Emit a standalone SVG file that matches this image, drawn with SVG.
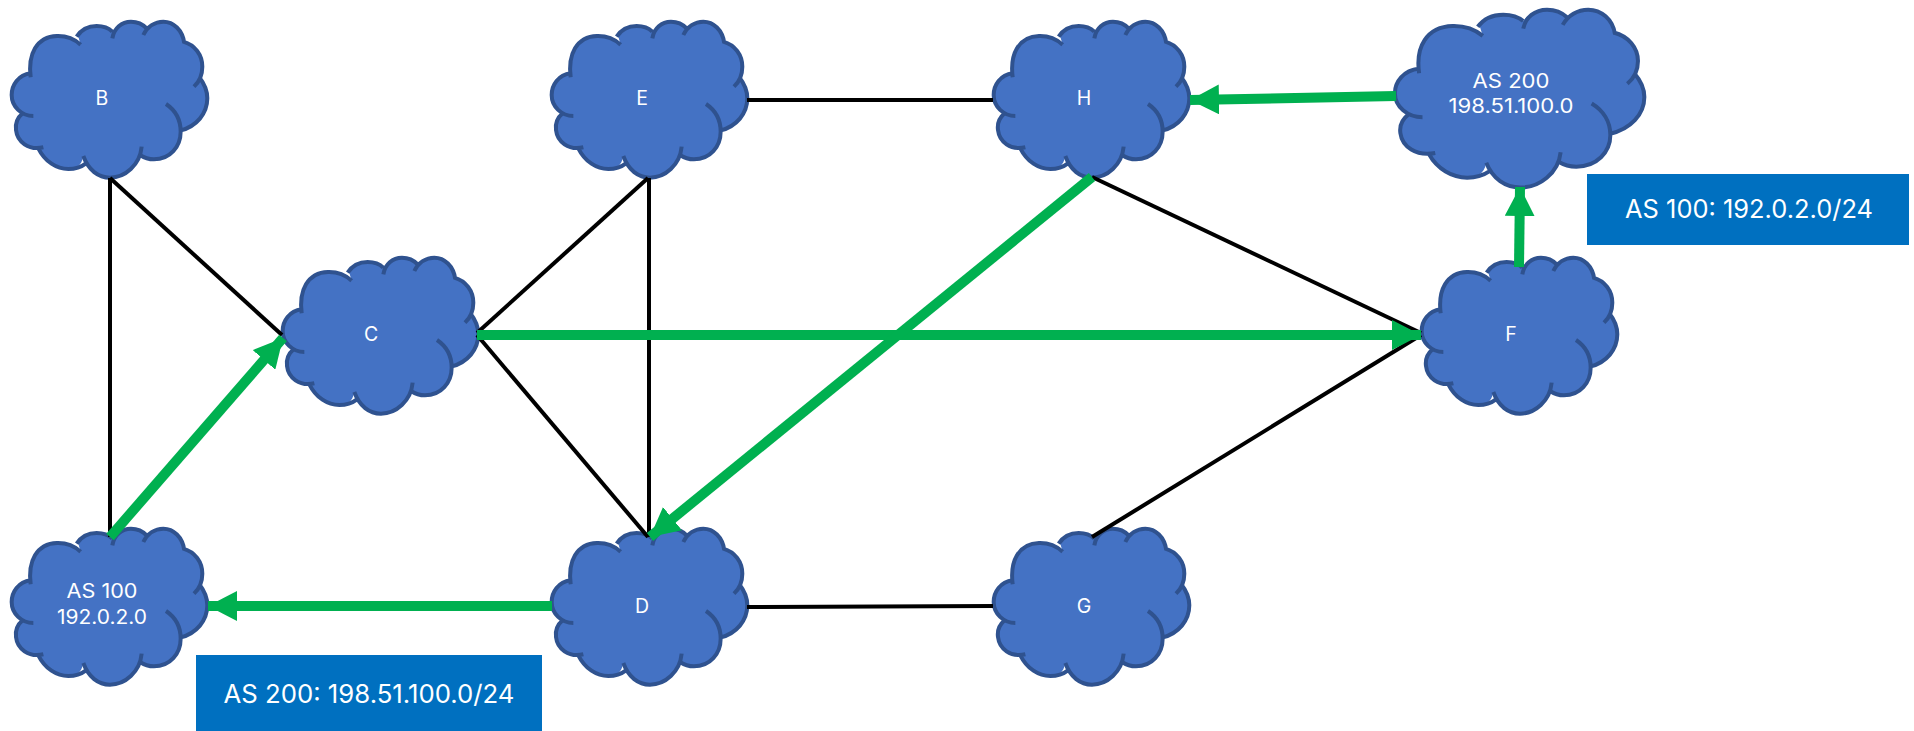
<svg xmlns="http://www.w3.org/2000/svg" width="1914" height="731" viewBox="0 0 1914 731">
<style>
.cf{fill:#4472C4}
.cs{fill:none;stroke:#2F528F;stroke-width:4;vector-effect:non-scaling-stroke;stroke-linecap:butt}
.t{font-family:Inter,"Noto Sans","Liberation Sans",sans-serif;fill:#fff;text-anchor:middle}
.n{font-size:19.5px}
.l{font-size:25.5px}
.k{stroke:#000;stroke-width:4;fill:none}
.g{stroke:#00B050;stroke-width:10;fill:none;marker-end:url(#ah)}
.b{fill:#0070C0}
</style>
<defs>
<marker id="ah" markerUnits="userSpaceOnUse" markerWidth="30" markerHeight="30" refX="29" refY="15" orient="auto">
<path d="M0,0 L29,15 L0,30 Z" fill="#00B050"/>
</marker>
<g id="cloud">
<path class="cf" d="M242,134 C205,100 135,95 105,145 C90,170 88,200 92,220 C55,225 35,255 35,285 C35,310 50,330 68,340 C50,355 46,375 48,390 C52,425 85,452 115,445 C135,485 170,507 205,507 C225,507 245,500 250,468 C265,510 295,533 330,533 C375,533 415,500 420,465 C435,475 450,478 462,478 C510,478 542,440 540,392 C590,380 622,340 622,295 C622,270 612,250 598,232 C605,222 607,210 607,200 C607,165 585,135 553,130 C548,90 520,65 490,65 C470,65 450,72 440,85 C428,72 410,65 393,65 C370,65 345,80 337,95 C325,83 308,78 290,78 C265,78 243,90 235,110 Z"/>
<path class="cs" d="M242,134 C205,100 135,95 105,145 C90,170 88,200 92,232 M92,220 C55,225 35,255 35,285 C35,320 65,348 100,348 M68,340 C50,355 46,375 48,390 C52,425 85,452 130,442 M115,445 C135,485 170,507 205,507 C225,507 245,500 258,490 M250,468 C265,510 295,533 330,533 C375,533 420,495 425,440 M420,465 C435,475 450,478 462,478 C510,478 542,440 542,395 C542,360 525,330 498,312 M540,392 C590,380 622,340 622,295 C622,270 612,250 598,232 M582,260 C598,245 607,222 607,200 C607,165 585,135 550,125 M553,130 C548,90 520,65 490,65 C465,65 442,80 430,105 M440,85 C428,72 410,65 393,65 C365,65 342,85 337,115 M337,95 C325,83 308,78 290,78 C265,78 243,90 230,110"/>
</g>
</defs>
<rect width="1914" height="731" fill="#fff"/>
<g id="node-B"><use href="#cloud" transform="translate(0,0) scale(.3333)"/><text class="t n" x="102" y="105">B</text></g>
<g id="node-E"><use href="#cloud" transform="translate(540,0) scale(.3333)"/><text class="t n" x="642" y="105">E</text></g>
<g id="node-H"><use href="#cloud" transform="translate(982,0) scale(.3333)"/><text class="t n" x="1084" y="105">H</text></g>
<g id="node-C"><use href="#cloud" transform="translate(271,236) scale(.3333)"/><text class="t n" x="371" y="341">C</text></g>
<g id="node-F"><use href="#cloud" transform="translate(1410,236) scale(.3333)"/><text class="t n" x="1511" y="341">F</text></g>
<g id="node-AS100"><use href="#cloud" transform="translate(0,507) scale(.3333)"/><text class="t n" x="102" y="598" textLength="71" lengthAdjust="spacingAndGlyphs">AS 100</text><text class="t n" x="102" y="624" textLength="90" lengthAdjust="spacingAndGlyphs">192.0.2.0</text></g>
<g id="node-D"><use href="#cloud" transform="translate(540,507) scale(.3333)"/><text class="t n" x="642" y="613">D</text></g>
<g id="node-G"><use href="#cloud" transform="translate(982,507) scale(.3333)"/><text class="t n" x="1084" y="613">G</text></g>
<g id="node-AS200"><use href="#cloud" transform="translate(1380,-15) scale(.425,.38)"/><text class="t n" x="1511" y="88" textLength="77" lengthAdjust="spacingAndGlyphs">AS 200</text><text class="t n" x="1511" y="113" textLength="125" lengthAdjust="spacingAndGlyphs">198.51.100.0</text></g>
<g id="connectors">
<path class="k" d="M110,178 V537"/>
<path class="k" d="M110,178 L282,335"/>
<path class="k" d="M477,333 L648,178"/>
<path class="k" d="M477,335 L648,537"/>
<path class="k" d="M649,178 V537"/>
<path class="k" d="M747,100 H993"/>
<path class="k" d="M1092,177 L1421,333"/>
<path class="k" d="M1092,537 L1421,335"/>
<path class="k" d="M747,607 L993,606"/>
<path class="g" d="M110,537 L283,338"/>
<path class="g" d="M477,335 H1421"/>
<path class="g" d="M1092,177 L650,537"/>
<path class="g" d="M552,606 L208,606"/>
<path class="g" d="M1519,267 L1520,187"/>
<path class="g" d="M1396,96 L1190,100"/>
</g>
<g id="label-as100"><rect class="b" x="1587" y="174" width="322" height="71"/><text class="t l" x="1749" y="218" textLength="248" lengthAdjust="spacingAndGlyphs">AS 100: 192.0.2.0/24</text></g>
<g id="label-as200"><rect class="b" x="196" y="655" width="346" height="76"/><text class="t l" x="369" y="703" textLength="291" lengthAdjust="spacingAndGlyphs">AS 200: 198.51.100.0/24</text></g>
</svg>
